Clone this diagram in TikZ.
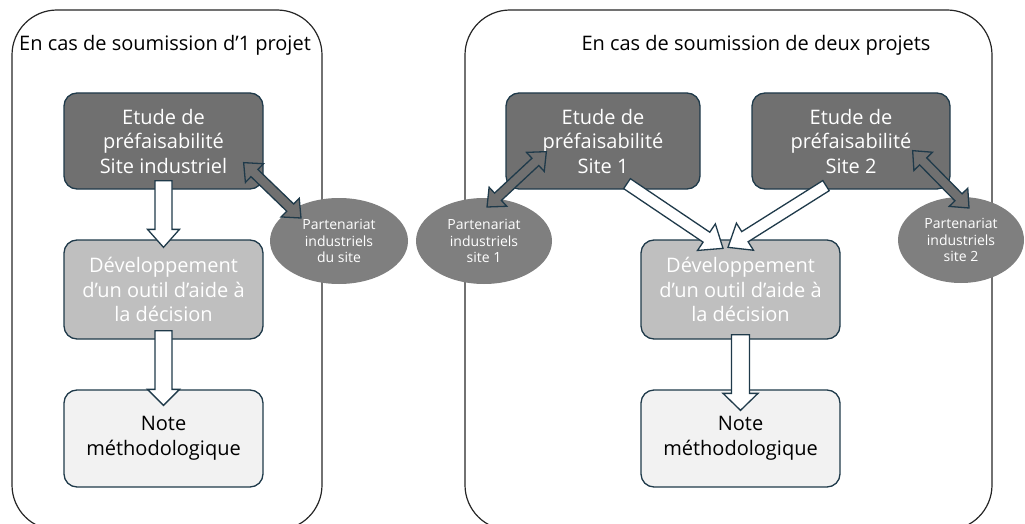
\documentclass[tikz,border=0pt]{standalone}
\usepackage{fontspec}
\setmainfont{Open Sans}
\usetikzlibrary{calc,shapes.geometric}

\definecolor{boxline}{HTML}{1F3A4A}
\definecolor{darkfill}{HTML}{707070}
\definecolor{midfill}{HTML}{BFBFBF}
\definecolor{lightfill}{HTML}{F2F2F2}
\definecolor{partfill}{HTML}{7F7F7F}

% block arrow: style, from, to, half shaft, half head, head length
\newcommand{\blockarrow}[6]{%
  \coordinate (ba-h) at ($(#3)!#6!(#2)$);
  \filldraw[#1] ($(#2)!#4!90:(#3)$) -- ($(ba-h)!#4!90:(#3)$) -- ($(ba-h)!#5!90:(#3)$) -- (#3)
    -- ($(ba-h)!#5!-90:(#3)$) -- ($(ba-h)!#4!-90:(#3)$) -- ($(#2)!#4!-90:(#3)$) -- cycle;}
\newcommand{\twowayarrow}[6]{%
  \coordinate (tw-a) at ($(#2)!#6!(#3)$);
  \coordinate (tw-b) at ($(#3)!#6!(#2)$);
  \filldraw[#1] (#2) -- ($(tw-a)!#5!90:(#3)$) -- ($(tw-a)!#4!90:(#3)$) -- ($(tw-b)!#4!90:(#3)$)
    -- ($(tw-b)!#5!90:(#3)$) -- (#3) -- ($(tw-b)!#5!-90:(#3)$) -- ($(tw-b)!#4!-90:(#3)$)
    -- ($(tw-a)!#4!-90:(#3)$) -- ($(tw-a)!#5!-90:(#3)$) -- cycle;}

\begin{document}
\begin{tikzpicture}[x=1pt,y=-1pt]
		\tikzstyle{frame}=[draw=black!85,line width=1.2pt,rounded corners=45pt]
		\tikzstyle{title}=[font=\fontsize{20}{22}\selectfont]
		\tikzstyle{box}=[draw=boxline,line width=1.3pt,rounded corners=13pt,align=center,font=\fontsize{20}{24.5}\selectfont]
		\tikzstyle{etude}=[box,fill=darkfill,text=white,minimum height=96pt]
		\tikzstyle{dev}=[box,fill=midfill,text=white,minimum width=199pt,minimum height=99pt]
		\tikzstyle{note}=[box,fill=lightfill,text=black,minimum width=199pt,minimum height=97pt]
		\tikzstyle{part}=[ellipse,fill=partfill,text=white,inner sep=0pt,minimum height=86pt,align=center,font=\fontsize{14}{16.5}\selectfont]
		\tikzstyle{flow}=[draw=boxline,fill=white,line width=1.3pt]
		\tikzstyle{link}=[draw=boxline,fill=darkfill,line width=1.3pt]

		\useasboundingbox (0,0) rectangle (1025,524);
		\draw[frame] (12,10) rectangle (322,530);
		\draw[frame] (465,10) rectangle (992,530);

		\node[title](titleL) at (165,45){En cas de soumission d’1 projet};
		\node[title](titleR) at (756,45){En cas de soumission de deux projets};

		\node[etude,minimum width=199pt](etudeL) at (163.5,141){Etude de\\préfaisabilité\\Site industriel};
		\node[dev](devL) at (163.5,289.5){Développement\\d’un outil d’aide à\\la décision};
		\node[note](noteL) at (163.5,438.5){Note\\méthodologique};
		\node[part,minimum width=138pt](partL) at (339,241){Partenariat\\industriels\\du site};

		\node[etude,minimum width=194pt](etudeA) at (603,141){Etude de\\préfaisabilité\\Site 1};
		\node[etude,minimum width=198pt](etudeB) at (851,141){Etude de\\préfaisabilité\\Site 2};
		\node[dev](devR) at (740.5,289.5){Développement\\d’un outil d’aide à\\la décision};
		\node[note](noteR) at (740.5,438.5){Note\\méthodologique};
		\node[part,minimum width=136pt](partA) at (484,241){Partenariat\\industriels\\site 1};
		\node[part,minimum width=126pt](partB) at (961,240){Partenariat\\industriels\\site 2};

		\coordinate (l1a) at ($(etudeL.south)+(0,-9)$);
		\coordinate (l1b) at ($(devL.north)+(0,8)$);
		\coordinate (l2a) at ($(devL.south)+(0,-9)$);
		\coordinate (l2b) at ($(noteL.north)+(0,16)$);
		\coordinate (lpa) at ($(etudeL.south east)+(-20,-27)$);
		\coordinate (lpb) at ($(partL.center)+(-38,-23)$);
		\blockarrow{flow}{l1a}{l1b}{8.5pt}{16pt}{18pt}
		\blockarrow{flow}{l2a}{l2b}{8.5pt}{16pt}{16pt}
		\twowayarrow{link}{lpa}{lpb}{5pt}{13pt}{15pt}

		\coordinate (raa) at ($(etudeA.south)+(24,-6)$);
		\coordinate (rab) at ($(devR.north)+(-17.5,9)$);
		\coordinate (rba) at ($(etudeB.south)+(-25,-4)$);
		\coordinate (rbb) at ($(devR.north)+(-12.5,8)$);
		\coordinate (r2a) at ($(devR.south)+(0,-5)$);
		\coordinate (r2b) at ($(noteR.north)+(0,21)$);
		\coordinate (paa) at ($(etudeA.south west)+(41,-38)$);
		\coordinate (pab) at ($(partA.center)+(3,-34)$);
		\coordinate (pba) at ($(etudeB.south east)+(-38,-39)$);
		\coordinate (pbb) at ($(partB.center)+(8,-32)$);
		\blockarrow{flow}{raa}{rab}{6pt}{16pt}{20pt}
		\blockarrow{flow}{rba}{rbb}{6pt}{16pt}{20pt}
		\blockarrow{flow}{r2a}{r2b}{9pt}{17.5pt}{17pt}
		\twowayarrow{link}{paa}{pab}{5pt}{13pt}{15pt}
		\twowayarrow{link}{pba}{pbb}{5pt}{13pt}{15pt}
	\end{tikzpicture}
\end{document}
